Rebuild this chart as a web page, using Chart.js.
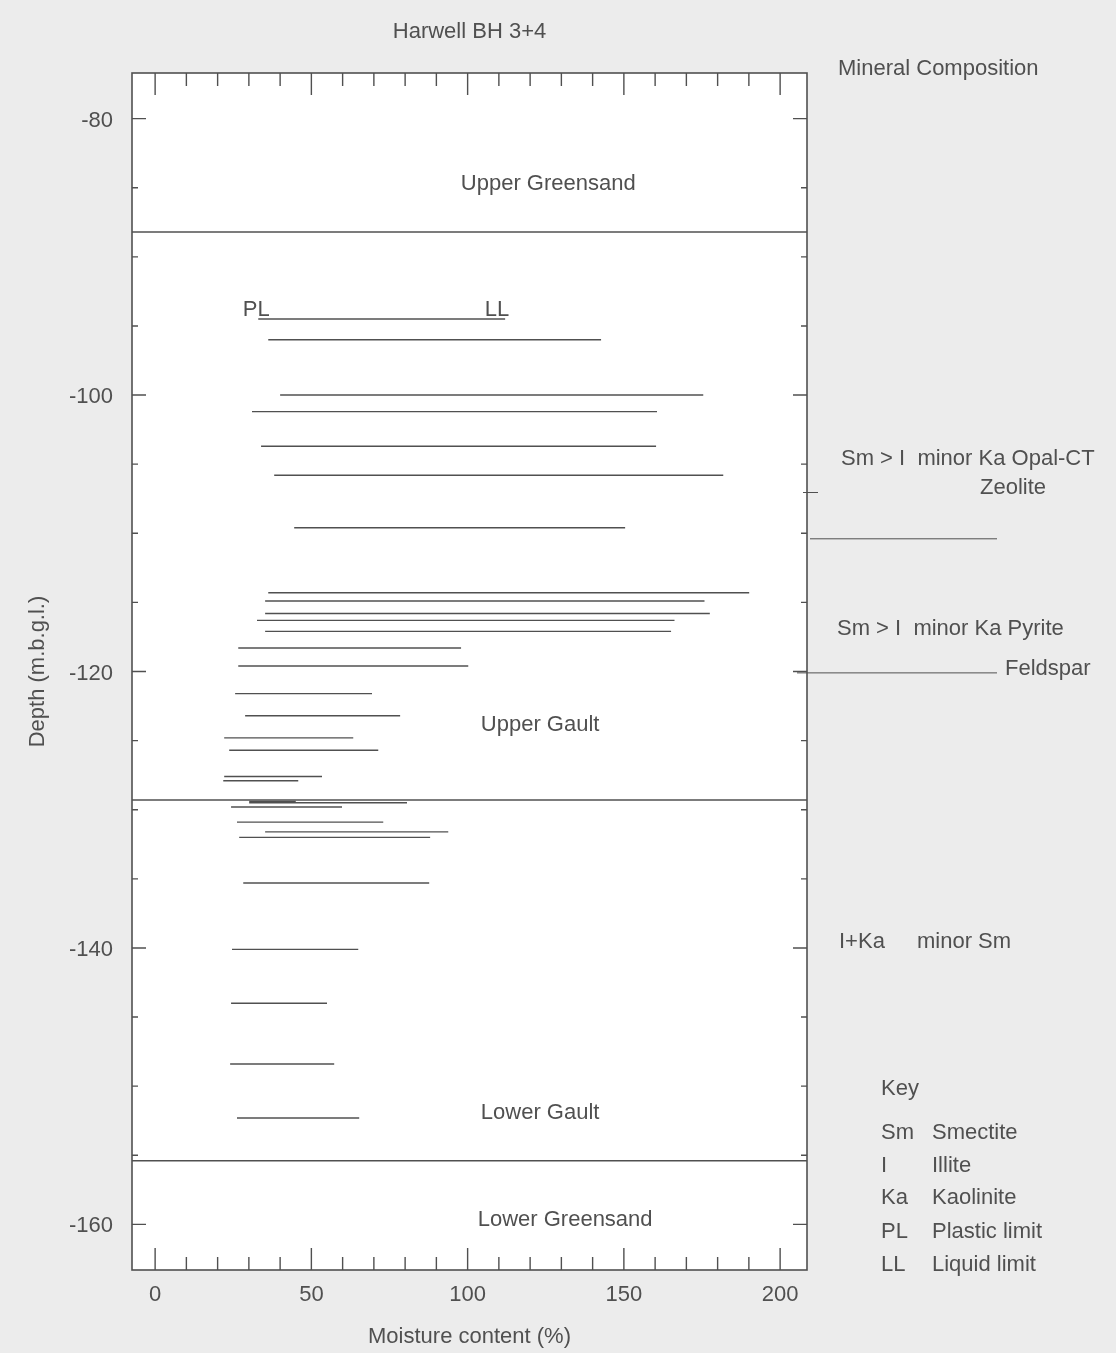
<!DOCTYPE html>
<html>
<head>
<meta charset="utf-8">
<script src="https://cdn.jsdelivr.net/npm/chart.js@4.4.0/dist/chart.umd.min.js"></script>
<style>
  html, body { margin: 0; padding: 0; background: #ececec; }
  #wrap { width: 1116px; height: 1353px; }
</style>
</head>
<body>
<div id="wrap"><canvas id="chart" width="1116" height="1353"></canvas></div>
<script>
// Depth (m.b.g.l.) of each sample, plastic limit and liquid limit (% moisture)
const depths = [-94.5, -96.0, -100.0, -101.2, -103.7, -105.8, -109.6, -114.3, -114.9, -115.8,
  -116.3, -117.1, -118.3, -119.6, -121.6, -123.2, -124.8, -125.7, -127.6, -127.9,
  -129.4, -129.5, -129.8, -130.9, -131.6, -132.0, -135.3, -140.1, -144.0, -148.4, -152.3];
const plasticLimit = [33, 36.2, 40, 31, 33.9, 38.1, 44.5, 36.2, 35.2, 35.2,
  32.6, 35.2, 26.6, 26.6, 25.6, 28.8, 22.1, 23.7, 22.1, 21.8,
  30.1, 30.1, 24.3, 26.2, 35.2, 26.9, 28.2, 24.6, 24.3, 24, 26.2];
const liquidLimit = [112, 142.7, 175.4, 160.6, 160.3, 181.8, 150.4, 190.1, 175.8, 177.5,
  166.2, 165.1, 97.9, 100.2, 69.4, 78.4, 63.4, 71.4, 53.4, 45.8,
  45, 80.6, 59.8, 73, 93.8, 88, 87.7, 65, 55, 57.3, 65.3];

// Formation boundaries and names
const boundaryDepths = [-88.2, -129.3, -155.4];
const formationNames = ['Upper Greensand', 'Upper Gault', 'Lower Gault', 'Lower Greensand'];
const formationLabelX = [125.8, 123.2, 123.2, 131.2];
const formationLabelDepth = [-84.6, -123.7, -151.8, -159.5];

// Axes
const xTicks = [0, 50, 100, 150, 200];
const yTicks = [-80, -100, -120, -140, -160];
const xRange = [-7.4, 208.6];
const yRange = [-163.3, -76.7];

// Mineral composition column
const mineralZoneBreaks = [-107.05, -110.4, -120.1];
const keyCodes = ['Sm', 'I', 'Ka', 'PL', 'LL'];
const keyNames = ['Smectite', 'Illite', 'Kaolinite', 'Plastic limit', 'Liquid limit'];

const INK = '#505050';
const FONT = '"Liberation Sans", Arial, sans-serif';
const FS = 22;

const datasets = depths.map((d, i) => ({
  data: [{ x: plasticLimit[i], y: d }, { x: liquidLimit[i], y: d }],
  showLine: true, pointRadius: 0, borderColor: INK, borderWidth: 1.4
}));
boundaryDepths.forEach(d => {
  datasets.push({
    data: [{ x: xRange[0], y: d }, { x: xRange[1], y: d }],
    showLine: true, pointRadius: 0, borderColor: INK, borderWidth: 1.4
  });
});

const frame = {
  id: 'frame',
  beforeDraw(chart) {
    const { ctx, chartArea: a } = chart;
    ctx.save();
    ctx.fillStyle = '#ececec';
    ctx.fillRect(0, 0, chart.width, chart.height);
    ctx.fillStyle = '#fff';
    ctx.fillRect(a.left, a.top, a.right - a.left, a.bottom - a.top);
    ctx.restore();
  },
  afterDraw(chart) {
    const { ctx, chartArea: a, scales: { x, y } } = chart;
    ctx.save();
    ctx.strokeStyle = INK;
    ctx.lineWidth = 1.6;
    ctx.strokeRect(a.left, a.top, a.right - a.left, a.bottom - a.top);

    // inward ticks
    ctx.lineWidth = 1.4;
    ctx.beginPath();
    for (let v = 0; v <= 200; v += 10) {
      const px = x.getPixelForValue(v);
      const len = v % 50 === 0 ? 22 : 13;
      ctx.moveTo(px, a.top); ctx.lineTo(px, a.top + len);
      ctx.moveTo(px, a.bottom); ctx.lineTo(px, a.bottom - len);
    }
    for (let v = -160; v <= -80; v += 5) {
      const py = y.getPixelForValue(v);
      const len = v % 20 === 0 ? 14 : 6;
      ctx.moveTo(a.left, py); ctx.lineTo(a.left + len, py);
      ctx.moveTo(a.right, py); ctx.lineTo(a.right - len, py);
    }
    ctx.stroke();

    // mineral zone marks
    ctx.lineWidth = 1;
    ctx.beginPath();
    let py = y.getPixelForValue(mineralZoneBreaks[0]);
    ctx.moveTo(a.right - 4, py); ctx.lineTo(a.right + 11, py);
    py = y.getPixelForValue(mineralZoneBreaks[1]);
    ctx.moveTo(a.right + 3, py); ctx.lineTo(a.right + 190, py);
    py = y.getPixelForValue(mineralZoneBreaks[2]);
    ctx.moveTo(a.right - 10, py); ctx.lineTo(a.right + 190, py);
    ctx.stroke();

    ctx.fillStyle = INK;
    ctx.font = FS + 'px ' + FONT;
    ctx.textBaseline = 'middle';
    ctx.textAlign = 'center';
    const t = (s, px, pyy) => ctx.fillText(s, px, pyy + 2);
    t('Harwell BH 3+4', (a.left + a.right) / 2, 30);
    formationNames.forEach((n, i) => {
      t(n, x.getPixelForValue(formationLabelX[i]), y.getPixelForValue(formationLabelDepth[i]));
    });

    // PL / LL labels on first sample
    const y0 = y.getPixelForValue(depths[0]) - 11;
    t('PL', x.getPixelForValue(plasticLimit[0]) - 2, y0);
    ctx.textAlign = 'right';
    t('LL', x.getPixelForValue(liquidLimit[0]) + 4, y0);

    ctx.textAlign = 'left';
    const r = a.right;
    t('Mineral Composition', r + 31, 67);
    t('Sm > I  minor Ka Opal-CT', r + 34, y.getPixelForValue(-104.45));
    t('Zeolite', r + 173, y.getPixelForValue(-106.55));
    t('Sm > I  minor Ka Pyrite', r + 30, y.getPixelForValue(-116.75));
    t('Feldspar', r + 198, y.getPixelForValue(-119.7));
    t('I+Ka', r + 32, y.getPixelForValue(-139.4));
    t('minor Sm', r + 110, y.getPixelForValue(-139.4));

    t('Key', r + 74, 1087);
    const rowY = [1131, 1164, 1196, 1230, 1263];
    keyCodes.forEach((c, i) => {
      t(c, r + 74, rowY[i]);
      t(keyNames[i], r + 125, rowY[i]);
    });
    ctx.restore();
  }
};

new Chart(document.getElementById('chart'), {
  type: 'scatter',
  data: { datasets },
  options: {
    responsive: false,
    animation: false,
    layout: { padding: { left: 0, top: 73, right: 309, bottom: 0 } },
    plugins: { legend: { display: false }, tooltip: { enabled: false } },
    scales: {
      x: {
        type: 'linear', min: xRange[0], max: xRange[1],
        afterBuildTicks: s => { s.ticks = xTicks.map(v => ({ value: v })); },
        afterFit: s => { s.height = 83; },
        grid: { display: false, drawTicks: false },
        border: { display: false },
        ticks: { color: INK, font: { family: FONT, size: FS }, padding: 12, maxRotation: 0 },
        title: { display: true, text: 'Moisture content (%)', color: INK,
          font: { family: FONT, size: FS }, padding: { top: 0, bottom: 3 } }
      },
      y: {
        type: 'linear', min: yRange[0], max: yRange[1],
        afterBuildTicks: s => { s.ticks = yTicks.map(v => ({ value: v })); },
        afterFit: s => { s.width = 132; },
        grid: { display: false, drawTicks: false },
        border: { display: false },
        ticks: { color: INK, font: { family: FONT, size: FS }, padding: 19, labelOffset: 2 },
        title: { display: true, text: 'Depth (m.b.g.l.)', color: INK,
          font: { family: FONT, size: FS }, padding: { top: 25, bottom: 0 } }
      }
    }
  },
  plugins: [frame]
});
</script>
</body>
</html>
